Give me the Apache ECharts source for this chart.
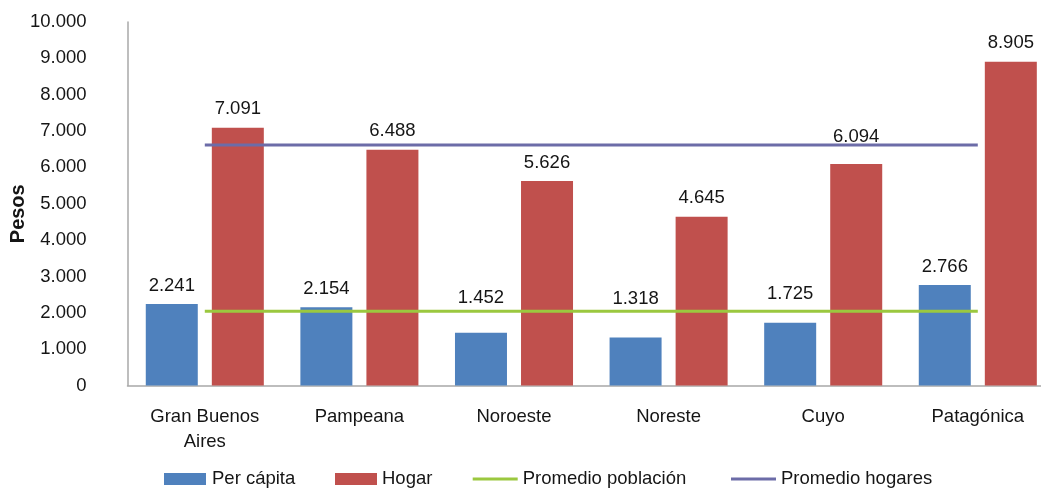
<!DOCTYPE html>
<html>
<head>
<meta charset="utf-8">
<script src="https://cdn.jsdelivr.net/npm/echarts@6/dist/echarts.min.js"></script>
<style>
html,body{margin:0;padding:0;background:#fff;}
#chart{width:1041px;height:488px;}
</style>
</head>
<body>
<div id="chart"></div>
<script>
const categories = ['Gran Buenos\nAires', 'Pampeana', 'Noroeste', 'Noreste', 'Cuyo', 'Patagónica'];
const perCapita = [2241, 2154, 1452, 1318, 1725, 2766];
const hogar = [7091, 6488, 5626, 4645, 6094, 8905];
const promedioPoblacion = [2040, 2040, 2040, 2040, 2040, 2040];
const promedioHogares = [6615, 6615, 6615, 6615, 6615, 6615];
const yTicks = [0, 1000, 2000, 3000, 4000, 5000, 6000, 7000, 8000, 9000, 10000];

const FONT = '"Liberation Sans", Arial, Helvetica, sans-serif';
const TXT = '#151515';
const FS = 18.5;

// label lift (px) for labels moved clear of the average lines
const perCapitaLabelDist = {'Noroeste': 25, 'Noreste': 29, 'Cuyo': 19};
const hogarLabelDist = {'Cuyo': 18};

function fmt(v) {
  return String(v).replace(/\B(?=(\d{3})+(?!\d))/g, '.');
}

const chart = echarts.init(document.getElementById('chart'), null, {renderer: 'canvas'});

const legendText = (pad) => ({fontFamily: FONT, fontSize: FS, color: TXT, lineHeight: 20, padding: [0, 0, 0, pad]});

const option = {
  animation: false,
  backgroundColor: '#fff',
  textStyle: {fontFamily: FONT},
  grid: {left: 127.5, top: 22, width: 927.6, height: 363.5, containLabel: false, outerBoundsMode: 'none'},
  legend: [
    {top: 469, left: 164, padding: 0, itemWidth: 42, itemHeight: 12, itemGap: 0, itemTextGap: 5,
     data: [{name: 'Per cápita', icon: 'rect'}], textStyle: legendText(1)},
    {top: 469, left: 335, padding: 0, itemWidth: 42, itemHeight: 12, itemGap: 0, itemTextGap: 5,
     data: [{name: 'Hogar', icon: 'rect'}], textStyle: legendText(0)},
    {top: 469, left: 472.7, padding: 0, itemWidth: 45, itemHeight: 3, itemGap: 0, itemTextGap: 4,
     data: [{name: 'Promedio población', icon: 'rect'}], textStyle: legendText(0)},
    {top: 469, left: 731, padding: 0, itemWidth: 45, itemHeight: 3, itemGap: 0, itemTextGap: 4,
     data: [{name: 'Promedio hogares', icon: 'rect'}], textStyle: legendText(0)}
  ],
  xAxis: {
    type: 'category',
    data: categories,
    boundaryGap: true,
    axisLine: {show: true, lineStyle: {color: '#a8a8a8', width: 1.5}},
    axisTick: {show: false},
    axisLabel: {interval: 0, margin: 19, fontFamily: FONT, fontSize: FS, color: TXT, lineHeight: 25}
  },
  yAxis: {
    type: 'value',
    min: yTicks[0],
    max: yTicks[yTicks.length - 1],
    interval: yTicks[1] - yTicks[0],
    name: 'Pesos',
    nameLocation: 'middle',
    nameGap: 99,
    nameRotate: 90,
    nameMoveOverlap: false,
    nameTextStyle: {fontFamily: FONT, fontSize: 20, fontWeight: 'bold', color: TXT, padding: [0, 20, 0, 0]},
    axisLine: {show: true, lineStyle: {color: '#a8a8a8', width: 1.5}},
    axisTick: {show: false},
    splitLine: {show: false},
    axisLabel: {margin: 41, fontFamily: FONT, fontSize: FS, color: TXT, formatter: fmt}
  },
  series: [
    {
      name: 'Per cápita', type: 'bar',
      data: perCapita.map((v, i) => perCapitaLabelDist[categories[i]] ? {value: v, label: {distance: perCapitaLabelDist[categories[i]]}} : v),
      barWidth: 52, barGap: '27%',
      itemStyle: {color: '#4F81BD'},
      label: {show: true, position: 'top', distance: 9, fontFamily: FONT, fontSize: FS, color: TXT, formatter: p => fmt(p.value)},
      z: 2
    },
    {
      name: 'Hogar', type: 'bar',
      data: hogar.map((v, i) => hogarLabelDist[categories[i]] ? {value: v, label: {distance: hogarLabelDist[categories[i]]}} : v),
      barWidth: 52, barGap: '27%',
      itemStyle: {color: '#C0504D'},
      label: {show: true, position: 'top', distance: 9, fontFamily: FONT, fontSize: FS, color: TXT, formatter: p => fmt(p.value)},
      z: 2
    },
    {
      name: 'Promedio población', type: 'line', data: promedioPoblacion,
      symbol: 'none', showSymbol: false,
      itemStyle: {color: '#9BC83F'},
      lineStyle: {color: '#9BC83F', width: 3},
      z: 5
    },
    {
      name: 'Promedio hogares', type: 'line', data: promedioHogares,
      symbol: 'none', showSymbol: false,
      itemStyle: {color: '#6C6CA8'},
      lineStyle: {color: '#6C6CA8', width: 3},
      z: 5
    }
  ]
};
chart.setOption(option);
</script>
</body>
</html>
